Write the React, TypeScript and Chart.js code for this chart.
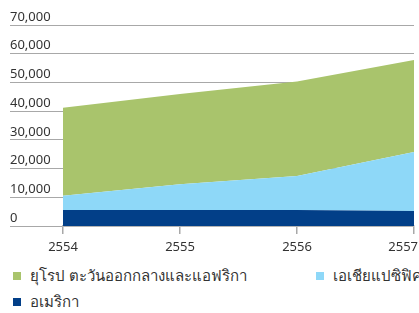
import React, { useEffect, useRef } from "react";
import { Chart, registerables } from "chart.js";

Chart.register(...registerables);

const years = ["2554", "2555", "2556", "2557"];
const americaValues = [5600, 5600, 5600, 5200];
const asiaPacificValues = [4900, 8900, 11800, 20600];
const emeaValues = [30700, 31500, 32900, 32000];
const seriesLabels = ["ยุโรป ตะวันออกกลางและแอฟริกา", "เอเชียแปซิฟิค", "อเมริกา"];
const seriesColors = ["#a9c46c", "#8ed8f8", "#023f88"];
const yMin = 0;
const yMax = 70000;
const yStep = 10000;

const tickFont = { family: "'Noto Sans', 'DejaVu Sans', sans-serif", size: 13 };
const textColor = "#333333";
const gridColor = "#a8a8a8";
const visibleWidth = 419;

// keeps the last x label inside the visible picture, as in the reference
const lastLabelInside = {
  id: "lastLabelInside",
  beforeDraw(chart: any) {
    const sx = chart.scales.x;
    if (!sx) return;
    const items = sx.getLabelItems(chart.chartArea);
    const last = items[items.length - 1];
    if (!last) return;
    last.options.textAlign = "right";
    last.options.translation = [visibleWidth - 1, last.options.translation[1]];
  },
};

export default function App() {
  const canvasRef = useRef<HTMLCanvasElement | null>(null);

  useEffect(() => {
    const canvas = canvasRef.current;
    if (!canvas) return;
    const chart = new Chart(canvas, {
      type: "line",
      data: {
        labels: years,
        datasets: [
          {
            label: seriesLabels[2],
            data: americaValues,
            backgroundColor: seriesColors[2],
            borderWidth: 0,
            pointRadius: 0,
            fill: "origin",
          },
          {
            label: seriesLabels[1],
            data: asiaPacificValues,
            backgroundColor: seriesColors[1],
            borderWidth: 0,
            pointRadius: 0,
            fill: "-1",
          },
          {
            label: seriesLabels[0],
            data: emeaValues,
            backgroundColor: seriesColors[0],
            borderWidth: 0,
            pointRadius: 0,
            fill: "-1",
          },
        ],
      },
      options: {
        animation: false,
        responsive: false,
        maintainAspectRatio: false,
        layout: {
          autoPadding: false,
          padding: { left: 10, right: 26, top: 25, bottom: 4 },
        },
        plugins: {
          legend: { display: false },
          tooltip: { enabled: false },
        },
        elements: { line: { tension: 0 } },
        scales: {
          x: {
            offset: false,
            grid: {
              drawOnChartArea: false,
              drawTicks: true,
              tickLength: 8,
              color: gridColor,
              lineWidth: 1.5,
            },
            border: { display: true, color: "#b4b4b4", width: 2 },
            ticks: {
              font: tickFont,
              color: textColor,
              padding: 5,
              maxRotation: 0,
              autoSkip: false,
            },
            afterFit: (scale: any) => {
              scale.height = 30;
            },
          },
          y: {
            stacked: true,
            min: yMin,
            max: yMax,
            grid: {
              drawTicks: true,
              tickLength: 53,
              color: gridColor,
              lineWidth: 1,
            },
            border: { display: false },
            ticks: {
              stepSize: yStep,
              font: tickFont,
              color: textColor,
              crossAlign: "far",
              labelOffset: -8,
              callback: (v: any) => Number(v).toLocaleString("en-US"),
            },
            afterFit: (scale: any) => {
              scale.width = 53;
            },
          },
        },
      },
      plugins: [lastLabelInside],
    });
    return () => chart.destroy();
  }, []);

  const legendItems = [0, 1, 2];

  return (
    <div
      style={{
        position: "absolute",
        left: 0,
        top: 0,
        width: visibleWidth,
        height: 313,
        overflow: "hidden",
        background: "#ffffff",
      }}
    >
      <canvas ref={canvasRef} width={440} height={260} style={{ display: "block" }} />
      <div
        style={{
          position: "absolute",
          left: 13,
          top: 266,
          display: "grid",
          gridTemplateColumns: "303px auto",
          rowGap: 5.5,
          fontFamily: "'Noto Sans', 'DejaVu Sans', sans-serif",
          fontSize: 15,
          color: textColor,
        }}
      >
        {legendItems.map((i) => (
          <div key={i} style={{ display: "flex", alignItems: "center", height: 20, whiteSpace: "nowrap" }}>
            <span
              style={{
                display: "inline-block",
                width: 8,
                height: 8,
                background: seriesColors[i],
                marginRight: 9,
                flexShrink: 0,
              }}
            />
            <span>{seriesLabels[i]}</span>
          </div>
        ))}
      </div>
    </div>
  );
}
